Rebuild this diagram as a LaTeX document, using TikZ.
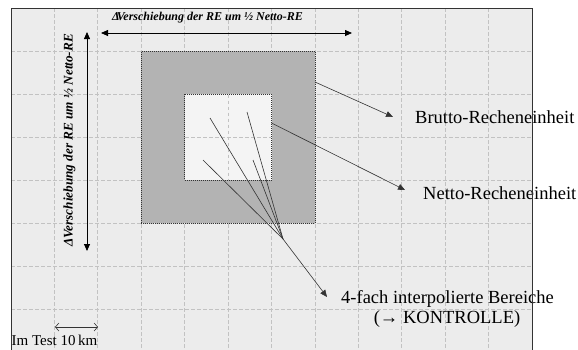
\documentclass[tikz,border=0pt]{standalone}
\usepackage{fontspec}
\setmainfont{Liberation Serif}
\usetikzlibrary{arrows.meta}
\definecolor{paper}{HTML}{ECECEC}
\definecolor{bruttogray}{HTML}{B3B3B3}
\definecolor{nettofill}{HTML}{F4F4F4}
\definecolor{gridgray}{HTML}{C2C2C2}
\definecolor{ink}{HTML}{333333}
\tikzset{
  gridline/.style={gridgray, line width=0.7pt, dash pattern=on 3.5pt off 2.5pt},
  unitbox/.style={inner sep=0pt, outer sep=0pt, draw=ink, line width=0.8pt,
                  dash pattern=on 1pt off 1pt},
  leader/.style={ink, line width=0.6pt},
  pointer/.style={leader, -{Triangle[length=7pt,width=6pt]}},
  shiftarrow/.style={black, line width=0.8pt,
                     {Triangle[length=7pt,width=6pt]}-{Triangle[length=7pt,width=6pt]}},
  scalearrow/.style={ink, line width=0.6pt,
                     {Straight Barb[length=3.5pt,width=8pt]}-{Straight Barb[length=3.5pt,width=8pt]}},
  shifttext/.style={inner sep=0pt, font=\fontsize{12}{14}\selectfont\bfseries\itshape},
  label/.style={inner sep=0pt, font=\fontsize{18.5}{22}\selectfont},
}
\begin{document}
\begin{tikzpicture}[x=1pt,y=-1pt]
\useasboundingbox (0,0) rectangle (578,349);
\clip (0,0) rectangle (578,349);
\fill[white] (0,0) rectangle (578,349);
% sheet with the 10 km grid
\fill[paper] (11,8) rectangle (532,362);
\foreach \k in {1,...,11}
  \draw[gridline] ({11+43.42*\k},8) -- ({11+43.42*\k},362);
\foreach \k in {1,...,7}
  \draw[gridline] (11,{8+43*\k}) -- (532,{8+43*\k});

% gross and net computing units
\node[unitbox, fill=bruttogray, minimum width=173.7pt, minimum height=172pt]
  (brutto) at (228.1,137) {};
\node[unitbox, fill=nettofill, minimum width=86.8pt, minimum height=86pt]
  (netto) at (228.1,137) {};
\draw[gridline] (228.1,94.6) -- (228.1,179.4);
\draw[gridline] (185.3,137) -- (270.9,137);

% shift arrows and their captions
\coordinate (hL) at (101,33);
\coordinate (hR) at (352,33);
\coordinate (vT) at (87,32);
\coordinate (vB) at (87,251);
\draw[shiftarrow] (hL) -- (hR);
\draw[shiftarrow] (vT) -- (vB);
\node[shifttext] (shiftH) at (207.5,18)
  {Δ\kern-.25em Verschiebung der RE um ½ Netto-RE};
\node[shifttext, rotate=90, font=\fontsize{13.2}{15}\selectfont\bfseries\itshape]
  (shiftV) at (69.5,140.5) {ΔVerschiebung der RE um ½ Netto-RE};

% labels
\node[label, anchor=base west] (lbrutto) at (415,123) {Brutto-Recheneinheit};
\node[label, anchor=base west] (lnetto) at (423,199) {Netto-Recheneinheit};
\node[label, anchor=base west] (linterp) at (341,303) {4-fach interpolierte Bereiche};
\node[label, anchor=base] (lcheck) at (447,323.5) {(→ KONTROLLE)};

% leader lines
\coordinate (bStart) at (brutto.east |- 0,82);
\coordinate (nStart) at (netto.east |- 0,123);
\coordinate (bTip) at (393,117);
\coordinate (nTip) at (405,190);
\draw[pointer] (bStart) -- (bTip);
\draw[pointer] (nStart) -- (nTip);

\coordinate (hub) at (283,239);
\coordinate (iTip) at (327,297);
\coordinate (z1) at (210,118);
\coordinate (z2) at (247,112);
\coordinate (z3) at (203,160);
\coordinate (z4) at (253,160);
\foreach \z in {z1,z2,z3,z4}
  \draw[leader] (hub) -- (\z);
\draw[pointer] (hub) -- (iTip);

% scale bar
\coordinate (sL) at (55,327);
\coordinate (sR) at (98,327);
\draw[scalearrow] (sL) -- (sR);
\node[inner sep=0pt, anchor=base west, font=\fontsize{15}{17}\selectfont]
  (scale) at (11.5,345) {Im Test 10\,km};

% sheet frame
\draw[ink, line width=0.8pt] (11,8) rectangle (532,362);
\end{tikzpicture}
\end{document}
